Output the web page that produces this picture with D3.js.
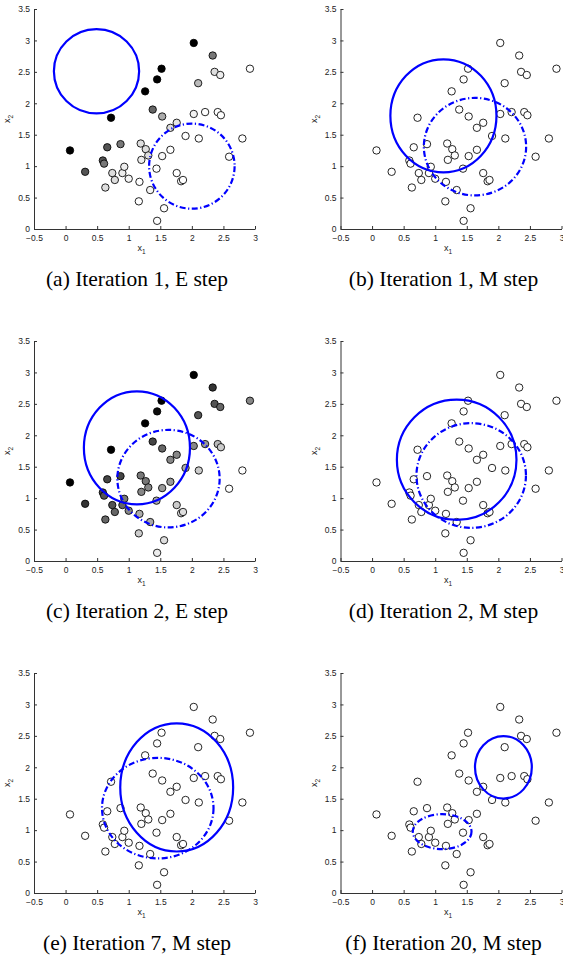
<!DOCTYPE html>
<html>
<head>
<meta charset="utf-8">
<script src="https://cdn.jsdelivr.net/npm/d3@7"></script>
<style>
  html, body { margin: 0; padding: 0; background: #fff; }
  svg { display: block; }
  .tick text { font-family: "Liberation Sans", Arial, sans-serif; font-size: 8.5px; fill: #222; }
  .tick line, .domain { stroke: #333; }
  .caption { font-family: "Liberation Serif", "Times New Roman", serif; font-size: 21.5px; fill: #000; }
  .axlabel { font-family: "Liberation Sans", Arial, sans-serif; font-size: 9px; fill: #222; }
</style>
</head>
<body>
<svg id="chart" width="563" height="959"></svg>
<script>
  // data points (same in every panel)
  const x1 = [0.07, 0.31, 0.59, 0.61, 0.66, 0.63, 0.72, 0.74, 0.78, 0.87,
              0.90, 0.93, 1.00, 1.17, 1.16, 1.19, 1.20, 1.27, 1.31, 1.26,
              1.38, 1.34, 1.45, 1.44, 1.45, 1.52, 1.53, 1.53, 1.56, 1.66,
              1.66, 1.76, 1.76, 1.83, 1.86, 1.90, 2.03, 2.03, 2.10, 2.11,
              2.21, 2.33, 2.36, 2.45, 2.41, 2.46, 2.59, 2.80, 2.92];
  const x2 = [1.25, 0.91, 1.09, 1.04, 1.30, 0.66, 1.77, 0.89, 0.78, 1.35,
              0.89, 0.99, 0.80, 0.75, 0.44, 1.36, 1.10, 1.27, 1.17, 2.19,
              1.90, 0.62, 2.38, 0.96, 0.13, 2.55, 1.79, 1.16, 0.33, 1.61,
              1.26, 1.69, 0.89, 0.76, 0.78, 1.48, 2.96, 1.83, 2.32, 1.44,
              1.86, 2.76, 2.50, 2.45, 1.86, 1.81, 1.15, 1.44, 2.55];

  // responsibility of the solid component, E steps (a) and (c)
  const respA = [1.00, 0.67, 0.67, 0.53, 0.67, 0.13, 1.00, 0.13, 0.13, 0.53,
                 0.07, 0.07, 0.04, 0.00, 0.00, 0.13, 0.07, 0.13, 0.13, 1.00,
                 0.60, 0.04, 1.00, 0.00, 0.00, 1.00, 0.33, 0.03, 0.00, 0.13,
                 0.00, 0.10, 0.00, 0.00, 0.00, 0.00, 1.00, 0.05, 0.27, 0.00,
                 0.00, 0.53, 0.13, 0.07, 0.00, 0.00, 0.00, 0.00, 0.00];
  const respC = [1.00, 0.80, 0.73, 0.67, 0.73, 0.60, 1.00, 0.67, 0.60, 0.73,
                 0.60, 0.53, 0.47, 0.33, 0.20, 0.53, 0.47, 0.53, 0.47, 1.00,
                 0.73, 0.33, 0.95, 0.33, 0.07, 1.00, 0.60, 0.40, 0.13, 0.47,
                 0.40, 0.47, 0.20, 0.13, 0.13, 0.33, 1.00, 0.47, 0.67, 0.20,
                 0.40, 0.80, 0.67, 0.60, 0.27, 0.20, 0.00, 0.00, 0.47];

  const captions = ["(a) Iteration 1, E step", "(b) Iteration 1, M step",
                    "(c) Iteration 2, E step", "(d) Iteration 2, M step",
                    "(e) Iteration 7, M step", "(f) Iteration 20, M step"];

  // ellipses per panel: [cx, cy, rx, ry]
  const solidEll = [[0.49, 2.51, 0.675, 0.67], [1.13, 1.80, 0.84, 0.90],
                    [1.13, 1.80, 0.84, 0.90], [1.34, 1.61, 0.947, 0.957],
                    [1.76, 1.68, 0.894, 1.02], [2.08, 2.00, 0.45, 0.497]];
  const dashEll = [[2.00, 1.00, 0.677, 0.677], [1.63, 1.31, 0.81, 0.776],
                   [1.63, 1.31, 0.81, 0.776], [1.57, 1.36, 0.867, 0.833],
                   [1.46, 1.35, 0.883, 0.80], [1.11, 0.976, 0.465, 0.278]];

  const fills = [respA, null, respC, null, null, null];

  const xTicks = [-0.5, 0, 0.5, 1, 1.5, 2, 2.5, 3];
  const yTicks = [0, 0.5, 1, 1.5, 2, 2.5, 3, 3.5];

  const colLeft = [34, 340.5];
  const rowTop = [9, 341, 673];
  const W = 221, H = 220;

  const svg = d3.select("#chart");
  const x = d3.scaleLinear().domain([-0.5, 3]).range([0, W]);
  const y = d3.scaleLinear().domain([0, 3.5]).range([H, 0]);
  const grey = d3.scaleLinear().domain([0, 1]).range(["#ffffff", "#000000"]);
  const fmt = (d) => String(d).replace("-", "\u2212");

  const points = x1.map((v, i) => ({ x: v, y: x2[i], i }));

  captions.forEach((cap, p) => {
    const col = p % 2, row = Math.floor(p / 2);
    const g = svg.append("g")
      .attr("transform", `translate(${colLeft[col]},${rowTop[row]})`);

    g.append("g")
      .attr("transform", `translate(0,${H})`)
      .call(d3.axisBottom(x).tickValues(xTicks).tickFormat(fmt).tickSize(-3).tickSizeOuter(0).tickPadding(6));
    g.append("g")
      .call(d3.axisLeft(y).tickValues(yTicks).tickFormat(fmt).tickSize(-3).tickSizeOuter(0).tickPadding(4));

    // axis labels
    const xl = g.append("text").attr("class", "axlabel")
      .attr("x", W / 2 - 3).attr("y", H + 22).attr("text-anchor", "middle");
    xl.append("tspan").text("x");
    xl.append("tspan").attr("dy", 3).attr("font-size", "6.5px").text("1");

    const yl = g.append("text").attr("class", "axlabel")
      .attr("transform", `translate(-24,${H / 2}) rotate(-90)`)
      .attr("text-anchor", "middle");
    yl.append("tspan").text("x");
    yl.append("tspan").attr("dy", 3).attr("font-size", "6.5px").text("2");

    const resp = fills[p];
    g.append("g").selectAll("circle")
      .data(points)
      .join("circle")
      .attr("cx", (d) => x(d.x))
      .attr("cy", (d) => y(d.y))
      .attr("r", 3.7)
      .attr("fill", (d) => resp ? grey(resp[d.i]) : "#fff")
      .attr("stroke", "#000")
      .attr("stroke-width", 0.85);

    const s = solidEll[p], t = dashEll[p];
    g.append("ellipse")
      .attr("cx", x(s[0])).attr("cy", y(s[1]))
      .attr("rx", x(s[0] + s[2]) - x(s[0])).attr("ry", y(s[1]) - y(s[1] + s[3]))
      .attr("fill", "none").attr("stroke", "#0000ff").attr("stroke-width", 2.2);
    g.append("ellipse")
      .attr("cx", x(t[0])).attr("cy", y(t[1]))
      .attr("rx", x(t[0] + t[2]) - x(t[0])).attr("ry", y(t[1]) - y(t[1] + t[3]))
      .attr("fill", "none").attr("stroke", "#0000ff").attr("stroke-width", 2.2)
      .attr("stroke-dasharray", "6 2.5 1.2 2.5");

    svg.append("text").attr("class", "caption")
      .attr("x", col === 0 ? 137 : 443.5)
      .attr("y", rowTop[row] + 277)
      .attr("text-anchor", "middle")
      .text(cap);
  });
</script>
</body>
</html>
